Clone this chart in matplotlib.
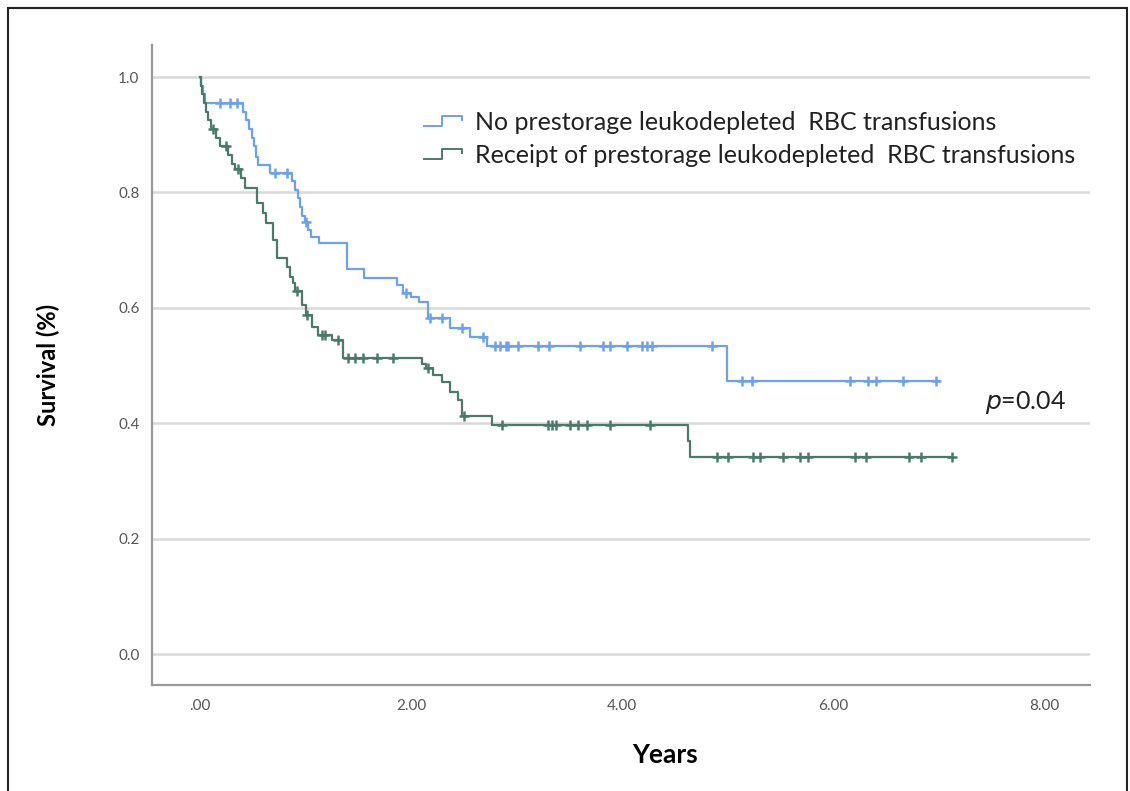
import numpy as np
import matplotlib.pyplot as plt
from matplotlib.lines import Line2D
from matplotlib.patches import Rectangle
from matplotlib.legend_handler import HandlerBase

plt.rcParams['font.family'] = ['Lato', 'DejaVu Sans']

# Kaplan-Meier steps (years, survival after event)
no_lr_times = [0.0, 0.01, 0.03, 0.05, 0.41, 0.44, 0.46, 0.49, 0.51, 0.53, 0.55,
               0.66, 0.87, 0.90, 0.93, 0.95, 0.97, 0.99, 1.02, 1.05, 1.13,
               1.39, 1.55, 1.87, 1.92, 2.00, 2.07, 2.16, 2.37, 2.56, 2.72,
               4.99, 7.00]
no_lr_surv = [1.0, 0.985, 0.97, 0.955, 0.94, 0.925, 0.91, 0.895, 0.88, 0.862, 0.847,
              0.834, 0.82, 0.804, 0.79, 0.775, 0.76, 0.749, 0.735, 0.723, 0.712,
              0.667, 0.652, 0.64, 0.626, 0.618, 0.61, 0.582, 0.565, 0.55, 0.534,
              0.474, 0.474]
no_lr_censor = [0.19, 0.28, 0.35, 0.71, 0.82, 1.00, 1.95, 2.18, 2.29, 2.48, 2.68,
                2.79, 2.84, 2.90, 2.92, 3.01, 3.20, 3.31, 3.60, 3.82, 3.88, 4.04,
                4.19, 4.23, 4.28, 4.85, 5.13, 5.23, 6.16, 6.33, 6.40, 6.66, 6.97]

lr_times = [0.0, 0.01, 0.02, 0.04, 0.06, 0.08, 0.10, 0.15, 0.19, 0.27, 0.30, 0.33,
            0.39, 0.43, 0.54, 0.60, 0.63, 0.69, 0.73, 0.82, 0.85, 0.88, 0.90,
            0.97, 1.00, 1.06, 1.12, 1.25, 1.35, 2.10, 2.14, 2.21, 2.29, 2.37,
            2.44, 2.48, 2.77, 4.62, 4.64, 7.13]
lr_surv = [1.0, 0.985, 0.97, 0.955, 0.94, 0.925, 0.91, 0.895, 0.88, 0.865, 0.85, 0.84,
           0.825, 0.808, 0.782, 0.764, 0.747, 0.717, 0.686, 0.671, 0.653, 0.643, 0.63,
           0.605, 0.588, 0.567, 0.553, 0.544, 0.513, 0.503, 0.495, 0.483, 0.471, 0.454,
           0.44, 0.412, 0.397, 0.37, 0.341, 0.341]
lr_censor = [0.12, 0.25, 0.36, 0.92, 1.01, 1.16, 1.18, 1.31, 1.40, 1.47, 1.54, 1.68,
             1.83, 2.16, 2.50, 2.86, 3.30, 3.33, 3.37, 3.50, 3.58, 3.67, 3.88, 4.26,
             4.90, 5.00, 5.24, 5.30, 5.52, 5.68, 5.76, 6.20, 6.31, 6.72, 6.83, 7.12]

labels = ['No prestorage leukodepleted  RBC transfusions',
          'Receipt of prestorage leukodepleted  RBC transfusions']
colors = ['#6aa2ee', '#4b7a6c']
p_text = '=0.04'

x_ticks = [0, 2, 4, 6, 8]
x_ticklabels = ['.00', '2.00', '4.00', '6.00', '8.00']
y_ticks = [0.0, 0.2, 0.4, 0.6, 0.8, 1.0]


def surv_at(times, surv, t):
    idx = np.searchsorted(times, t, side='right') - 1
    return np.array(surv)[idx]


class StepHandler(HandlerBase):
    # small step-shaped legend key, like the SPSS output
    def create_artists(self, legend, orig_handle, xdescent, ydescent,
                       width, height, fontsize, trans):
        xs = np.array([0.0, 0.45, 0.45, 0.95, 0.95]) * width - xdescent
        ys = np.array([0.2, 0.2, 0.8, 0.8, 0.55]) * height - ydescent
        line = Line2D(xs, ys, color=orig_handle.get_color(), lw=1.4)
        line.set_transform(trans)
        return [line]


fig = plt.figure(figsize=(11.3, 7.91), dpi=100)
ax = fig.add_axes([152 / 1130, 1 - 685 / 791, (1090 - 152) / 1130, (685 - 45) / 791])

for y in y_ticks:
    ax.axhline(y, color='#d9d9d9', lw=1.8, zorder=0)

handles = []
groups = [(no_lr_times, no_lr_surv, no_lr_censor),
          (lr_times, lr_surv, lr_censor)]
for (times, surv, cens), col, lab in zip(groups, colors, labels):
    ax.step(times, surv, where='post', color=col, lw=1.6, zorder=3)
    ax.plot(cens, surv_at(times, surv, cens), linestyle='none', marker='+',
            markersize=7, markeredgewidth=1.8, color=col, zorder=4)
    handles.append(Line2D([], [], color=col, label=lab))

ax.set_xlim(-0.4545, 8.43)
ax.set_ylim(-0.0537, 1.0555)
ax.set_xticks(x_ticks)
ax.set_xticklabels(x_ticklabels)
ax.set_yticks(y_ticks)
ax.set_yticklabels([f'{v:.1f}' for v in y_ticks])
ax.tick_params(length=0, labelsize=11, labelcolor='#555555', pad=10)
ax.tick_params(axis='y', pad=9)

for side in ['top', 'right']:
    ax.spines[side].set_visible(False)
for side in ['left', 'bottom']:
    ax.spines[side].set_color('#999999')
    ax.spines[side].set_linewidth(1.6)

ax.set_xlabel('Years', fontsize=19, fontweight='bold')
ax.xaxis.set_label_coords(0.547, -0.09)
ax.set_ylabel('Survival (%)', fontsize=17, fontweight='bold')
ax.yaxis.set_label_coords(-0.098, 0.5)

leg = ax.legend(handles=handles, handler_map={Line2D: StepHandler()},
                loc='upper left', bbox_to_anchor=(424 / 1130, 1 - 111 / 791),
                bbox_transform=fig.transFigure, frameon=False, fontsize=18,
                handlelength=1.6, handleheight=0.6, handletextpad=0.45,
                labelspacing=0.4, borderpad=0, borderaxespad=0)
for t in leg.get_texts():
    t.set_color('#222222')

fig.text(985 / 1130, 1 - 402 / 791, '$p$' + p_text, fontsize=18,
         va='center', ha='left', color='#222222')

fig.patches.append(Rectangle((8 / 1130, -0.02), 1119 / 1130, 1.02 - 8 / 791,
                             transform=fig.transFigure, fill=False,
                             edgecolor='#222222', lw=1.5))

fig.savefig('out.png', dpi=100)
